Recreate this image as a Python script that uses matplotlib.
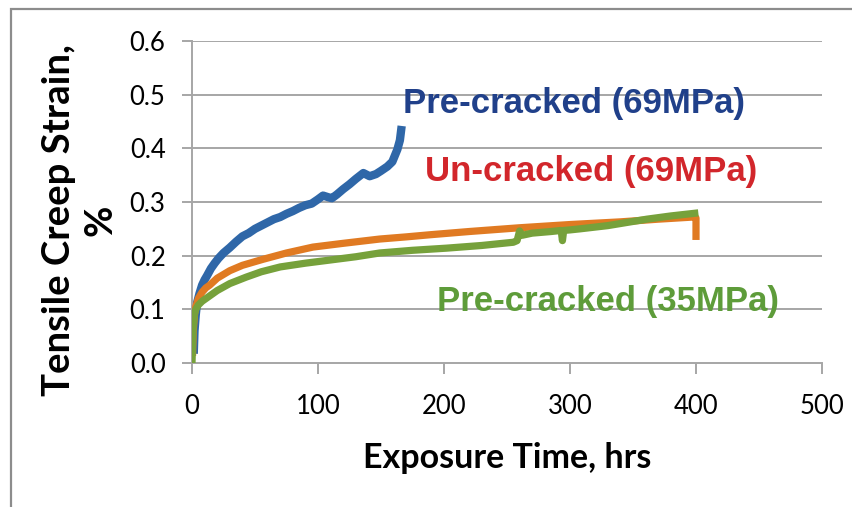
import matplotlib
matplotlib.use("Agg")
import matplotlib.pyplot as plt
from matplotlib.patches import Rectangle

# ---- data ----
pre69_t = [1.5, 2, 3, 4, 6, 8, 10, 12, 15, 18, 21, 25, 30, 35, 40, 45, 50, 55, 60, 65,
           70, 75, 80, 85, 90, 95, 100, 104, 108, 111, 115, 120, 125, 130, 136, 141,
           146, 150, 155, 159, 163, 165, 166]
pre69_y = [0.025, 0.06, 0.09, 0.112, 0.13, 0.145, 0.155, 0.163, 0.176, 0.186, 0.195,
           0.205, 0.215, 0.226, 0.236, 0.242, 0.25, 0.256, 0.262, 0.268, 0.272, 0.278,
           0.283, 0.289, 0.294, 0.297, 0.305, 0.312, 0.309, 0.307, 0.314, 0.324, 0.333,
           0.343, 0.354, 0.348, 0.352, 0.358, 0.366, 0.375, 0.398, 0.415, 0.434]

unc69_t = [0.5, 1, 2, 3, 5, 8, 11, 14, 20, 30, 40, 56, 75, 96, 120, 149, 170, 189,
           220, 260, 300, 340, 370, 398, 400, 400]
unc69_y = [0.02, 0.06, 0.09, 0.105, 0.12, 0.132, 0.14, 0.145, 0.158, 0.172, 0.182,
           0.193, 0.205, 0.216, 0.223, 0.231, 0.235, 0.239, 0.245, 0.252, 0.258,
           0.263, 0.268, 0.272, 0.27, 0.236]

pre35_t = [0, 0.5, 1, 2, 3, 5, 8, 11, 14, 20, 30, 43, 55, 70, 90, 110, 130, 149,
           175, 202, 230, 255, 258, 260, 262, 270, 285, 293, 294, 295, 300, 308, 330,
           361, 380, 399]
pre35_y = [0.0, 0.04, 0.07, 0.092, 0.1, 0.108, 0.115, 0.12, 0.125, 0.135, 0.148,
           0.16, 0.17, 0.179, 0.186, 0.192, 0.198, 0.205, 0.21, 0.214, 0.219, 0.225,
           0.228, 0.246, 0.238, 0.242, 0.245, 0.247, 0.228, 0.247, 0.248, 0.25, 0.256,
           0.268, 0.274, 0.279]

x_ticks = [0, 100, 200, 300, 400, 500]
y_ticks = [0.0, 0.1, 0.2, 0.3, 0.4, 0.5, 0.6]
y_tick_labels = ["0.0", "0.1", "0.2", "0.3", "0.4", "0.5", "0.6"]

# ---- figure ----
W, H = 852, 507
fig = plt.figure(figsize=(W / 100, H / 100), dpi=100)
ax = fig.add_axes([192 / W, 1 - 363 / H, (822 - 192) / W, (363 - 41) / H])

grid_c = "#A6A6A6"
c_blue, c_orange, c_green = "#2F67A8", "#E07A22", "#76A13B"

ax.plot(unc69_t, unc69_y, color=c_orange, lw=5.2, solid_joinstyle="round", zorder=3)
ax.plot(pre35_t, pre35_y, color=c_green, lw=5.2, solid_joinstyle="round", zorder=4)
ax.plot(pre69_t, pre69_y, color=c_blue, lw=6, solid_joinstyle="round", zorder=2)

ax.set_xlim(0, 500)
ax.set_ylim(0, 0.6)
ax.set_xticks(x_ticks)
ax.set_yticks(y_ticks)
ax.set_yticklabels(y_tick_labels)

for y in y_ticks[1:]:
    ax.axhline(y, color=grid_c, lw=1.4, zorder=1)

for s in ["top", "right"]:
    ax.spines[s].set_visible(False)
for s in ["left", "bottom"]:
    ax.spines[s].set_color(grid_c)
    ax.spines[s].set_linewidth(1.4)

ax.tick_params(axis="y", direction="out", length=7, width=1.4, color=grid_c, pad=12,
               labelsize=18.5)
ax.tick_params(axis="x", direction="out", length=8, width=1.4, color=grid_c, pad=14,
               labelsize=18.5)
for lab in ax.get_xticklabels() + ax.get_yticklabels():
    lab.set_fontfamily("Lato")

fig.text(507 / W, 1 - 458 / H, "Exposure Time, hrs", ha="center", va="center",
         fontsize=24.5, fontweight="bold", family="Lato")
fig.text(80 / W, 1 - 220 / H, "Tensile Creep Strain,\n%", ha="center", va="center",
         rotation=90, fontsize=27.5, fontweight="bold", family="Lato", linespacing=1.25)

ann = dict(fontsize=25, fontweight="bold", family="Liberation Sans", va="center",
           ha="left", zorder=5)
ax.text(167.5, 0.484, "Pre-cracked (69MPa)", color="#20408A", **ann)
ax.text(185, 0.356, "Un-cracked (69MPa)", color="#D2262B", **ann)
ax.text(194.4, 0.114, "Pre-cracked (35MPa)", color="#5E9C3A", **ann)

fig.add_artist(Rectangle((11 / W, -0.1), 1.2, 1 - 9 / H + 0.1, transform=fig.transFigure,
                         fill=False, edgecolor="#8C8C8C", lw=1.6))

fig.savefig("out.png", dpi=100)
